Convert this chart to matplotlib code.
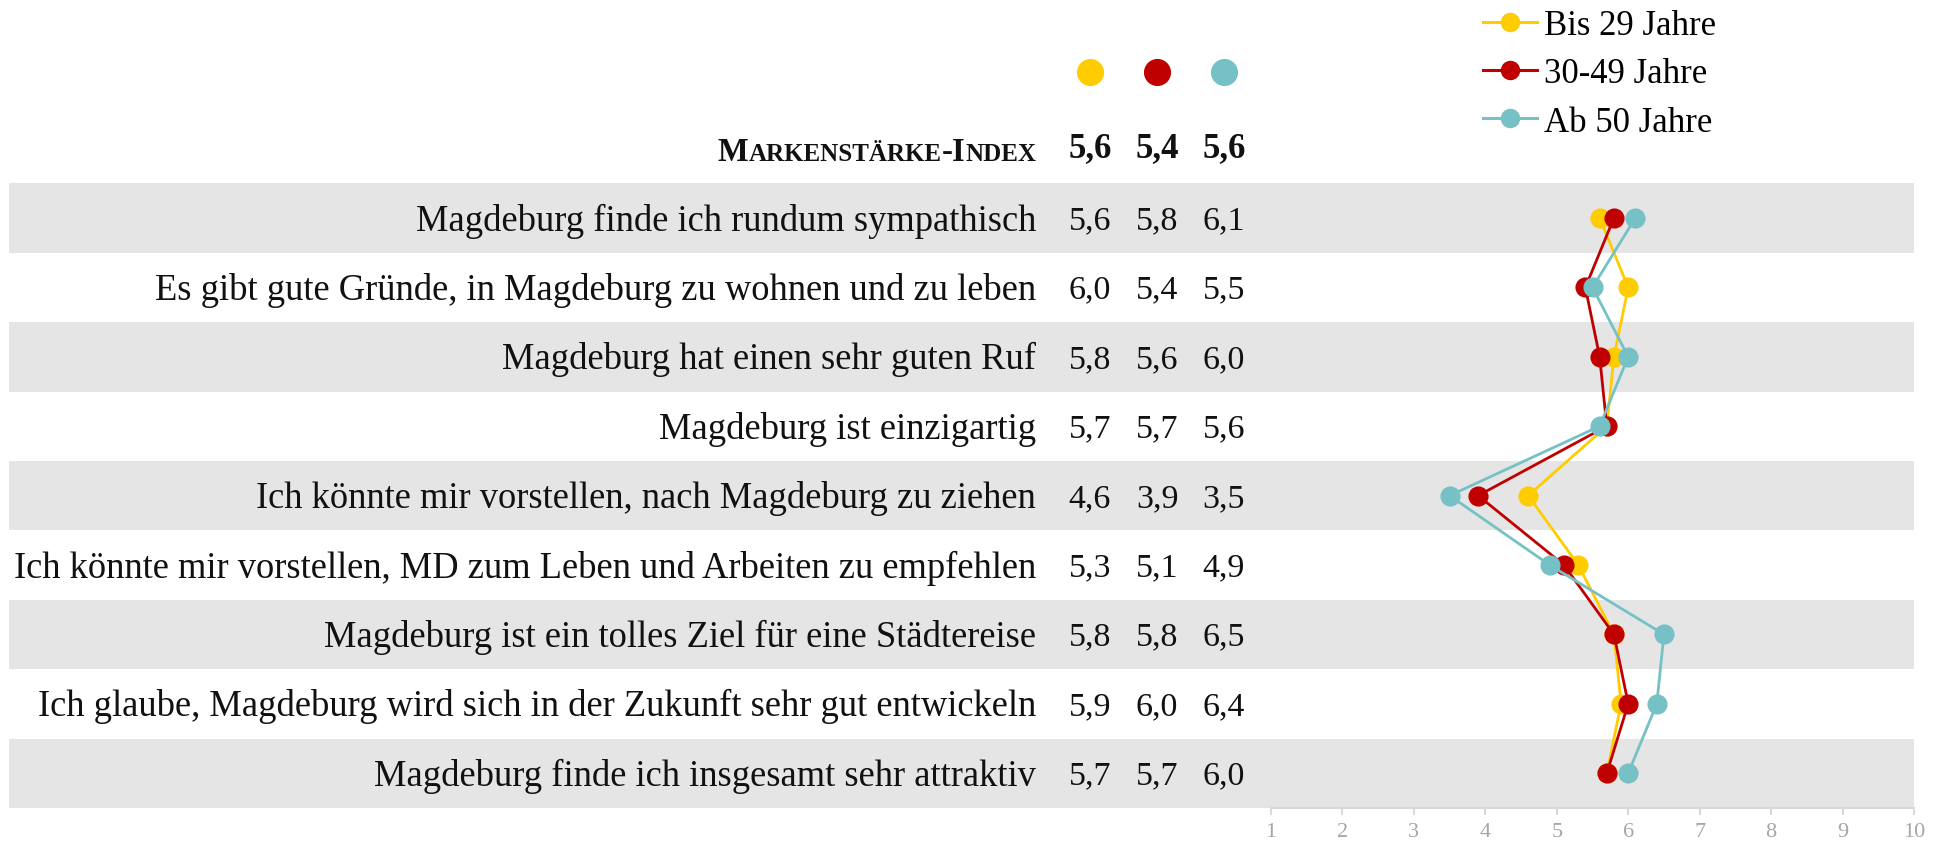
import matplotlib
matplotlib.use("Agg")
import matplotlib.pyplot as plt
import matplotlib.transforms as mtransforms
from matplotlib.lines import Line2D

plt.rcParams['font.family'] = ['Liberation Serif', 'DejaVu Serif']

statements = [
    "Magdeburg finde ich rundum sympathisch",
    "Es gibt gute Gründe, in Magdeburg zu wohnen und zu leben",
    "Magdeburg hat einen sehr guten Ruf",
    "Magdeburg ist einzigartig",
    "Ich könnte mir vorstellen, nach Magdeburg zu ziehen",
    "Ich könnte mir vorstellen, MD zum Leben und Arbeiten zu empfehlen",
    "Magdeburg ist ein tolles Ziel für eine Städtereise",
    "Ich glaube, Magdeburg wird sich in der Zukunft sehr gut entwickeln",
    "Magdeburg finde ich insgesamt sehr attraktiv",
]
series_names = ["Bis 29 Jahre", "30-49 Jahre", "Ab 50 Jahre"]
bis29 = [5.6, 6.0, 5.8, 5.7, 4.6, 5.3, 5.8, 5.9, 5.7]
j30_49 = [5.8, 5.4, 5.6, 5.7, 3.9, 5.1, 5.8, 6.0, 5.7]
ab50 = [6.1, 5.5, 6.0, 5.6, 3.5, 4.9, 6.5, 6.4, 6.0]
index_values = [5.6, 5.4, 5.6]
x_ticks = list(range(1, 11))
colors = ["#FFCC00", "#C00000", "#75C1C6"]

W, H = 1943, 845
fig = plt.figure(figsize=(W / 100, H / 100), dpi=100)

def fx(px):
    return px / W

def fy(py):
    return 1 - py / H

row_h = 69.4
row0 = 219
n = len(statements)
top_px = row0 - row_h / 2
bot_px = row0 + row_h * (n - 0.5)
ax_left, ax_right = 1271, 1914
ax = fig.add_axes([fx(ax_left), fy(bot_px), fx(ax_right - ax_left), (bot_px - top_px) / H])
ax.set_xlim(1, 10)
ax.set_ylim(n - 0.5, -0.5)

# bands
band_left = 9
xmin_frac = (band_left - ax_left) / (ax_right - ax_left)
for i in range(0, n, 2):
    ax.axhspan(i - 0.5, i + 0.5, xmin=xmin_frac, xmax=1.0, color="#E5E5E5",
               zorder=0, clip_on=False, lw=0)

ys = list(range(n))
for vals, c, z in zip([bis29, j30_49, ab50], colors, [3, 4, 5]):
    ax.plot(vals, ys, color=c, lw=2.0, marker='o', markersize=13.5, zorder=z, clip_on=False)

for s in ['top', 'right', 'left']:
    ax.spines[s].set_visible(False)
ax.spines['bottom'].set_color("#D9D9D9")
ax.spines['bottom'].set_linewidth(1.5)
ax.set_yticks([])
ax.set_xticks(x_ticks)
ax.set_xticklabels([str(t) for t in x_ticks])
ax.tick_params(axis='x', colors="#D9D9D9", length=5, width=1.5, labelsize=16,
               labelcolor="#A6A6A6", pad=5)

trans = mtransforms.blended_transform_factory(fig.transFigure, ax.transData)
label_right = 1036
col_x = [1090, 1157, 1224]
dy = 0.03
for i, s in enumerate(statements):
    ax.text(fx(label_right), i + dy, s, transform=trans, ha='right', va='center',
            fontsize=26.3, color="#111111")
    for vals, cx in zip([bis29, j30_49, ab50], col_x):
        ax.text(fx(cx), i + dy, f"{vals[i]:.1f}".replace('.', ','), transform=trans,
                ha='center', va='center', fontsize=24.5, color="#111111")

# header
hdr_y = (149 - row0) / row_h
dot_y = (73 - row0) / row_h
for cx, c in zip(col_x, colors):
    ax.plot([fx(cx)], [dot_y], transform=trans, marker='o', markersize=18.5,
            color=c, clip_on=False, lw=0)
for v, cx in zip(index_values, col_x):
    ax.text(fx(cx), hdr_y, f"{v:.1f}".replace('.', ','), transform=trans,
            ha='center', va='center', fontsize=25, fontweight='bold', color="#111111")

# small caps title, right aligned at label_right
parts = [("M", 23.5), ("ARKENSTÄRKE", 18), ("-I", 23.5), ("NDEX", 18)]
renderer = fig.canvas.get_renderer()
texts = []
for p, fs in parts:
    t = ax.text(0, hdr_y, p, transform=trans, ha='left', va='baseline',
                fontsize=fs, fontweight='bold', color="#111111")
    texts.append(t)
widths = [t.get_window_extent(renderer).width for t in texts]
total = sum(widths)
x = label_right - total
for t, w in zip(texts, widths):
    t.set_x(fx(x))
    t.set_y(hdr_y + 0.17)
    x += w

# legend
handles = [Line2D([], [], color=c, lw=2.2, marker='o', markersize=13) for c in colors]
fig.legend(handles, series_names, loc='upper left', bbox_to_anchor=(fx(1483), fy(10)),
           frameon=False, fontsize=25, handlelength=1.55, handletextpad=0.2,
           labelspacing=0.44, borderaxespad=0.0, borderpad=0.0)

fig.savefig("out.png", dpi=100)
